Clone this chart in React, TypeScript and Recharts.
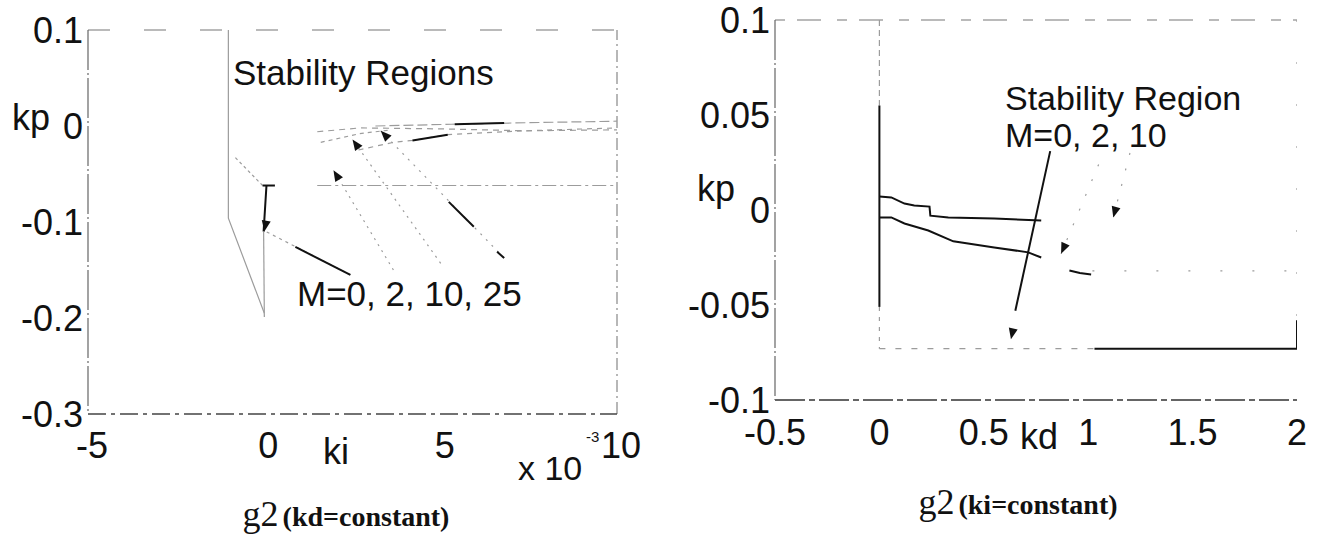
import React from "react";
import { ComposedChart, Line, Scatter, XAxis, YAxis, ReferenceLine } from "recharts";

type Pt = { x: number; y: number };

// ---- g2, kd held constant (ki plotted in units of 1e-3) ----
const kiTicks = [-5, 0, 5, 10];
const kpTicksLeft = [-0.3, -0.2, -0.1, 0, 0.1];

const kiOuterEdge: Pt[] = [
  { x: -1.02, y: 0.1 },
  { x: -1.02, y: -0.096 },
  { x: 0, y: -0.195 },
];
const kiInnerDiag: Pt[] = [
  { x: -0.82, y: -0.033 },
  { x: -0.05, y: -0.062 },
];
const kiZeroUpper: Pt[] = [
  { x: 0.06, y: -0.062 },
  { x: -0.02, y: -0.11 },
];
const kiZeroLower: Pt[] = [
  { x: -0.02, y: -0.11 },
  { x: 0, y: -0.199 },
];
const kiFloorStub: Pt[] = [
  { x: -0.05, y: -0.062 },
  { x: 0.3, y: -0.062 },
];
const kiFloor: Pt[] = [
  { x: 1.5, y: -0.062 },
  { x: 10, y: -0.062 },
];
// upper boundaries, M = 0, 2, 10, 25
const kiBoundM0: Pt[] = [
  { x: 3.15, y: 0.0 },
  { x: 5.3, y: 0.0018 },
  { x: 7.4, y: 0.0034 },
  { x: 10, y: 0.005 },
];
const kiBoundM2: Pt[] = [
  { x: 1.5, y: -0.006 },
  { x: 2.7, y: -0.002 },
  { x: 5.0, y: -0.003 },
  { x: 7.4, y: -0.005 },
  { x: 10, y: -0.004 },
];
const kiBoundM10: Pt[] = [
  { x: 1.6, y: -0.017 },
  { x: 2.7, y: -0.008 },
  { x: 3.6, y: -0.004 },
];
const kiBoundM25: Pt[] = [
  { x: 2.67, y: -0.025 },
  { x: 3.66, y: -0.017 },
  { x: 4.2, y: -0.015 },
  { x: 5.2, y: -0.009 },
  { x: 7.4, y: -0.005 },
  { x: 10, y: -0.002 },
];
const kiBoundM0Dark: Pt[] = [
  { x: 5.4, y: 0.0019 },
  { x: 6.8, y: 0.003 },
];
const kiBoundM25Dark: Pt[] = [
  { x: 4.2, y: -0.015 },
  { x: 5.2, y: -0.009 },
];
// leaders from the M label up to each boundary
const kiLeaderM0: Pt[] = [
  { x: 2.44, y: -0.155 },
  { x: 0.05, y: -0.11 },
];
const kiLeaderM0Dark: Pt[] = [
  { x: 2.44, y: -0.155 },
  { x: 0.88, y: -0.126 },
];
const kiLeaderM2: Pt[] = [
  { x: 3.66, y: -0.15 },
  { x: 1.96, y: -0.046 },
];
const kiLeaderM10: Pt[] = [
  { x: 5.0, y: -0.143 },
  { x: 2.5, y: -0.014 },
];
const kiLeaderM25: Pt[] = [
  { x: 6.8, y: -0.1375 },
  { x: 3.3, y: -0.005 },
];
const kiLeaderM25DarkA: Pt[] = [
  { x: 5.23, y: -0.079 },
  { x: 5.94, y: -0.105 },
];
const kiLeaderM25DarkB: Pt[] = [
  { x: 6.6, y: -0.131 },
  { x: 6.8, y: -0.1375 },
];
const kiArrows = [
  { x: 0, y: -0.11, angle: 100 },
  { x: 1.96, y: -0.046, angle: -121 },
  { x: 2.5, y: -0.014, angle: -125 },
  { x: 3.3, y: -0.005, angle: -134 },
];

// ---- g2, ki held constant ----
const kdTicks = [-0.5, 0, 0.5, 1, 1.5, 2];
const kpTicksRight = [-0.1, -0.05, 0, 0.05, 0.1];

const kdZeroTop: Pt[] = [
  { x: 0, y: 0.1 },
  { x: 0, y: 0.055 },
];
const kdZeroDark: Pt[] = [
  { x: 0, y: 0.055 },
  { x: 0, y: -0.051 },
];
const kdZeroFaint: Pt[] = [
  { x: 0, y: -0.051 },
  { x: 0, y: -0.073 },
];
const kdUpper: Pt[] = [
  { x: 0, y: 0.0071 },
  { x: 0.057, y: 0.0066 },
  { x: 0.12, y: 0.0034 },
  { x: 0.167, y: 0.0024 },
  { x: 0.24, y: 0.0018 },
  { x: 0.244, y: -0.003 },
  { x: 0.33, y: -0.004 },
  { x: 0.55, y: -0.0045 },
  { x: 0.775, y: -0.0055 },
];
const kdLower: Pt[] = [
  { x: 0, y: -0.0039 },
  { x: 0.057, y: -0.0039 },
  { x: 0.12, y: -0.0071 },
  { x: 0.234, y: -0.0108 },
  { x: 0.354, y: -0.0165 },
  { x: 0.55, y: -0.0197 },
  { x: 0.713, y: -0.0223 },
  { x: 0.775, y: -0.025 },
];
const kdLowerTail: Pt[] = [
  { x: 0.91, y: -0.0318 },
  { x: 0.96, y: -0.0332 },
  { x: 1.014, y: -0.0339 },
];
const kdFloorFaint: Pt[] = [
  { x: 0, y: -0.073 },
  { x: 1.03, y: -0.073 },
];
const kdFloorDark: Pt[] = [
  { x: 1.03, y: -0.073 },
  { x: 2, y: -0.073 },
];
const kdEdgeDark: Pt[] = [
  { x: 2, y: -0.058 },
  { x: 2, y: -0.073 },
];
const kdEdgeFaint: Pt[] = [
  { x: 2, y: 0.1 },
  { x: 2, y: -0.058 },
];
const kdMidFaint: Pt[] = [
  { x: 1.02, y: -0.032 },
  { x: 2, y: -0.032 },
];
const kdLeaderM0: Pt[] = [
  { x: 0.818, y: 0.031 },
  { x: 0.651, y: -0.053 },
];
const kdLeaderM2: Pt[] = [
  { x: 1.05, y: 0.024 },
  { x: 0.87, y: -0.023 },
];
const kdLeaderM10: Pt[] = [
  { x: 1.2, y: 0.03 },
  { x: 1.12, y: -0.004 },
];
const kdArrows = [
  { x: 0.63, y: -0.068, angle: 102 },
  { x: 0.87, y: -0.023, angle: 114 },
  { x: 1.12, y: -0.004, angle: 105 },
];

const sans = "'Liberation Sans', Arial, Helvetica, sans-serif";
const serif = "'Liberation Serif', 'Times New Roman', serif";
const ink = "#111";
const faint = "#9c9c9c";

const Arrowhead = (props: any) => {
  const { cx, cy, payload } = props;
  if (cx == null || cy == null) return <g />;
  return (
    <polygon
      points="0,0 -11,-4.5 -11,4.5"
      transform={`translate(${cx},${cy}) rotate(${payload.angle})`}
      fill={ink}
    />
  );
};

const XTick = ({ x, y, payload, dx = 0, dy }: any) => (
  <text x={x + dx} y={y} dy={dy} textAnchor="middle" fontFamily={sans} fontSize={36} fill={ink}>
    {String(payload.value)}
  </text>
);

const YTick = ({ x, y, payload }: any) => (
  <text x={x} y={y} dy={13} textAnchor="end" fontFamily={sans} fontSize={36} fill={ink}>
    {String(payload.value)}
  </text>
);

const trace = (id: string, data: Pt[], dark: boolean, dash?: string) => (
  <Line
    key={id}
    data={data}
    dataKey="y"
    stroke={dark ? ink : faint}
    strokeWidth={dark ? 2 : 1.2}
    strokeDasharray={dash}
    dot={false}
    activeDot={false}
    legendType="none"
    isAnimationActive={false}
  />
);

const Txt = ({ left, cy, size, family = sans, weight = 400, children }: any) => (
  <div
    style={{
      position: "absolute",
      left,
      top: cy - size / 2,
      fontSize: size,
      lineHeight: `${size}px`,
      fontFamily: family,
      fontWeight: weight,
      color: ink,
      whiteSpace: "nowrap",
    }}
  >
    {children}
  </div>
);

const Caption = ({ cx, cy, fixed }: any) => (
  <div
    style={{
      position: "absolute",
      left: cx - 200,
      width: 400,
      top: cy - 20,
      lineHeight: "40px",
      textAlign: "center",
      fontFamily: serif,
      color: ink,
      whiteSpace: "nowrap",
    }}
  >
    <span style={{ fontSize: 36 }}>g2</span>{" "}
    <span style={{ fontSize: 28, fontWeight: 700 }}>({fixed}=constant)</span>
  </div>
);

// axis boxes sit inside the margins, so the plot area lands at left 88 / bottom 414
function KiPlane() {
  return (
    <ComposedChart width={660} height={548} margin={{ top: 30, right: 43, bottom: 74, left: 8 }}>
      <XAxis
        type="number"
        dataKey="x"
        domain={[-5, 10]}
        ticks={kiTicks}
        allowDataOverflow
        height={60}
        tickSize={0}
        tickMargin={0}
        tickLine={false}
        axisLine={{ stroke: "#444", strokeWidth: 1.3, strokeDasharray: "18 5 4 5" }}
        tick={(p: any) => <XTick {...p} dx={4} dy={44} />}
      />
      <YAxis
        type="number"
        domain={[-0.3, 0.1]}
        ticks={kpTicksLeft}
        allowDataOverflow
        width={80}
        tickSize={0}
        tickMargin={5}
        tickLine={false}
        axisLine={{ stroke: "#666", strokeWidth: 1.2, strokeDasharray: "40 3 2 3" }}
        tick={(p: any) => <YTick {...p} />}
      />
      <ReferenceLine y={0.1} stroke="#777" strokeWidth={1.2} strokeDasharray="22 34" />
      <ReferenceLine x={10} stroke="#888" strokeWidth={1.2} strokeDasharray="12 4 2 4" />
      {trace("outer", kiOuterEdge, false)}
      {trace("innerDiag", kiInnerDiag, false, "3 3")}
      {trace("zeroUpper", kiZeroUpper, true)}
      {trace("zeroLower", kiZeroLower, false)}
      {trace("floorStub", kiFloorStub, true)}
      {trace("floor", kiFloor, false, "14 4 3 4")}
      {trace("m0", kiBoundM0, false, "10 4")}
      {trace("m2", kiBoundM2, false, "6 5")}
      {trace("m10", kiBoundM10, false, "4 4")}
      {trace("m25", kiBoundM25, false, "5 5")}
      {trace("m0Dark", kiBoundM0Dark, true)}
      {trace("m25Dark", kiBoundM25Dark, true)}
      {trace("leadM0", kiLeaderM0, false, "3 4")}
      {trace("leadM0Dark", kiLeaderM0Dark, true)}
      {trace("leadM2", kiLeaderM2, false, "2 5")}
      {trace("leadM10", kiLeaderM10, false, "2 5")}
      {trace("leadM25", kiLeaderM25, false, "2 6")}
      {trace("leadM25a", kiLeaderM25DarkA, true)}
      {trace("leadM25b", kiLeaderM25DarkB, true)}
      <Scatter data={kiArrows} dataKey="y" shape={<Arrowhead />} legendType="none" isAnimationActive={false} />
    </ComposedChart>
  );
}

function KdPlane() {
  return (
    <ComposedChart width={658} height={548} margin={{ top: 20, right: 21, bottom: 88, left: 15 }}>
      <XAxis
        type="number"
        dataKey="x"
        domain={[-0.5, 2]}
        ticks={kdTicks}
        allowDataOverflow
        height={60}
        tickSize={0}
        tickMargin={0}
        tickLine={false}
        axisLine={{ stroke: "#333", strokeWidth: 1.3, strokeDasharray: "30 4 6 4" }}
        tick={(p: any) => <XTick {...p} dy={45} />}
      />
      <YAxis
        type="number"
        domain={[-0.1, 0.1]}
        ticks={kpTicksRight}
        allowDataOverflow
        width={100}
        tickSize={0}
        tickMargin={5}
        tickLine={false}
        axisLine={{ stroke: "#666", strokeWidth: 1.2, strokeDasharray: "40 3 2 3" }}
        tick={(p: any) => <YTick {...p} />}
      />
      <ReferenceLine y={0.1} stroke="#777" strokeWidth={1.2} strokeDasharray="10 12 24 16" />
      {trace("zeroTop", kdZeroTop, false, "6 4")}
      {trace("zeroDark", kdZeroDark, true)}
      {trace("zeroFaint", kdZeroFaint, false, "4 6")}
      {trace("upper", kdUpper, true)}
      {trace("lower", kdLower, true)}
      {trace("tail", kdLowerTail, true)}
      {trace("floorFaint", kdFloorFaint, false, "6 10")}
      {trace("floorDark", kdFloorDark, true)}
      {trace("edgeDark", kdEdgeDark, true)}
      {trace("edgeFaint", kdEdgeFaint, false, "2 40")}
      {trace("midFaint", kdMidFaint, false, "2 30")}
      {trace("leadM0", kdLeaderM0, true)}
      {trace("leadM2", kdLeaderM2, false, "2 14")}
      {trace("leadM10", kdLeaderM10, false, "2 14")}
      <Scatter data={kdArrows} dataKey="y" shape={<Arrowhead />} legendType="none" isAnimationActive={false} />
    </ComposedChart>
  );
}

export default function App() {
  return (
    <div style={{ position: "absolute", left: 0, top: 0, width: 1318, height: 548, background: "#fff", overflow: "hidden" }}>
      <div style={{ position: "absolute", left: 0, top: 0 }}>
        <KiPlane />
      </div>
      <div style={{ position: "absolute", left: 660, top: 0 }}>
        <KdPlane />
      </div>

      <Txt left={12} cy={118} size={36}>kp</Txt>
      <Txt left={233} cy={72} size={35}>Stability Regions</Txt>
      <Txt left={297} cy={293} size={35}>M=0, 2, 10, 25</Txt>
      <Txt left={323} cy={452} size={36}>ki</Txt>
      <Txt left={518} cy={468} size={34}>x 10</Txt>
      <Txt left={586} cy={436} size={15}>-3</Txt>
      <Caption cx={346} cy={514} fixed="kd" />

      <Txt left={697} cy={189} size={36}>kp</Txt>
      <Txt left={1005} cy={98} size={34}>Stability Region</Txt>
      <Txt left={1005} cy={135} size={34}>M=0, 2, 10</Txt>
      <Txt left={1020} cy={437} size={36}>kd</Txt>
      <Caption cx={1018} cy={502} fixed="ki" />
    </div>
  );
}
